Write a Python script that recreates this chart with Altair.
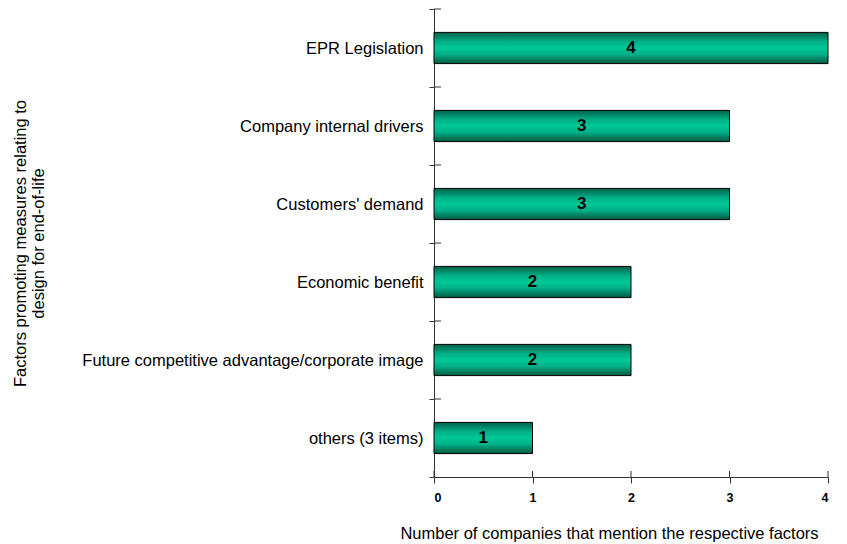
import altair as alt
import pandas as pd

categories = [
    "EPR Legislation",
    "Company internal drivers",
    "Customers' demand",
    "Economic benefit",
    "Future competitive advantage/corporate image",
    "others (3 items)",
]
counts = [4, 3, 3, 2, 2, 1]
x_ticks = [0, 1, 2, 3, 4]

df = pd.DataFrame({"factor": categories, "count": counts})
df["half"] = df["count"] / 2
tick_df = pd.DataFrame({"count": x_ticks})

FONT = "Liberation Sans"
AXIS_COLOR = "#333333"

y_enc = alt.Y(
    "factor:N",
    sort=categories,
    scale=alt.Scale(paddingInner=0, paddingOuter=0),
    axis=alt.Axis(
        title=["Factors promoting measures relating to", "design for end-of-life"],
        titleFont=FONT,
        titleFontSize=16.5,
        titleFontWeight="normal",
        titleColor="black",
        titleX=-414,
        titleY=234,
        titleAngle=270,
        titleAlign="center",
        titleBaseline="middle",
        labelFont=FONT,
        labelFontSize=16.5,
        labelColor="black",
        labelPadding=6,
        tickBand="extent",
        tickColor=AXIS_COLOR,
        tickSize=5,
        domainColor=AXIS_COLOR,
        labelLimit=500,
    ),
)

x_enc = alt.X(
    "count:Q",
    scale=alt.Scale(domain=[0, 4], nice=False),
    axis=alt.Axis(
        values=x_ticks,
        format="d",
        title="Number of companies that mention the respective factors",
        titleFont=FONT,
        titleFontSize=16.5,
        titleFontWeight="normal",
        titleColor="black",
        titlePadding=22,
        titleX=175,
        titleAlign="center",
        labelFont=FONT,
        labelFontSize=12.5,
        labelFontWeight="bold",
        labelColor="black",
        labelPadding=8,
        tickColor=AXIS_COLOR,
        tickSize=6,
        domainColor=AXIS_COLOR,
        grid=False,
    ),
)

grad = alt.Gradient(
    gradient="linear",
    x1=0, x2=0, y1=0, y2=1,
    stops=[
        alt.GradientStop(color="#006048", offset=0),
        alt.GradientStop(color="#00b088", offset=0.3),
        alt.GradientStop(color="#00c896", offset=0.5),
        alt.GradientStop(color="#00b088", offset=0.7),
        alt.GradientStop(color="#005840", offset=1),
    ],
)

bars = alt.Chart(df).mark_bar(
    fill=grad, stroke="black", strokeWidth=1, height=alt.RelativeBandSize(0.4)
).encode(x=x_enc, y=y_enc)

labels = alt.Chart(df).mark_text(
    font=FONT, fontSize=17, fontWeight="bold", color="black", baseline="middle"
).encode(
    x=alt.X("half:Q"),
    y=alt.Y("factor:N", sort=categories),
    text=alt.Text("count:Q", format="d"),
)

# inward halves of the crossing ticks
y_inner = alt.Chart(df).mark_rule(color=AXIS_COLOR, strokeWidth=1).encode(
    y=alt.Y("factor:N", sort=categories, bandPosition=0),
    x=alt.value(0),
    x2=alt.value(7),
)

x_inner = alt.Chart(tick_df).mark_rule(color=AXIS_COLOR, strokeWidth=1).encode(
    x=alt.X("count:Q"),
    y=alt.value(462),
    y2=alt.value(468),
)

chart = (
    alt.layer(bars, labels, y_inner, x_inner)
    .properties(
        width=394,
        height=468,
        autosize=alt.AutoSizeParams(type="none"),
        padding={"left": 434, "top": 9, "right": 19, "bottom": 67},
        background="white",
    )
    .configure_view(stroke=None)
)

chart.save("out.html", embed_options={"renderer": "svg", "actions": False})
